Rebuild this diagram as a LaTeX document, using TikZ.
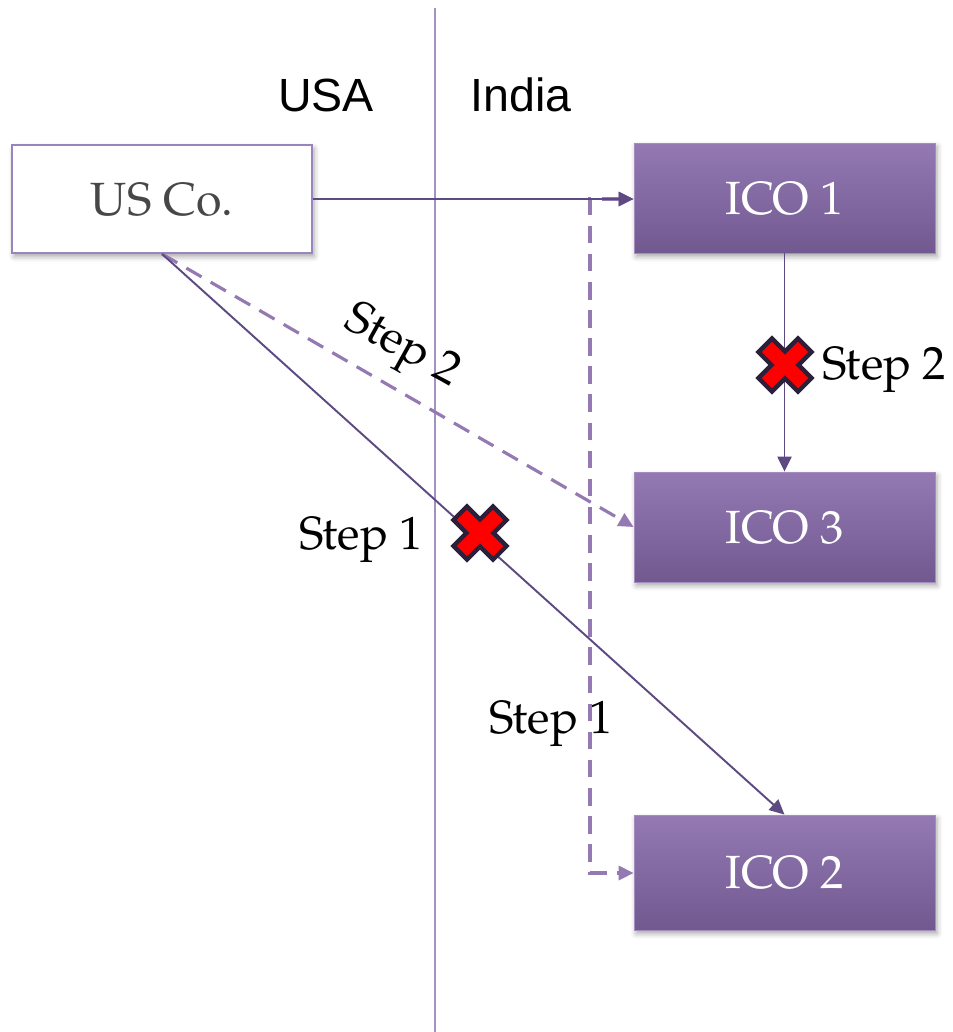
\documentclass[tikz,border=0pt]{standalone}
\usepackage{fontspec}
\setmainfont{TeX Gyre Pagella}
\newfontfamily\labelsans{Liberation Sans}
\usetikzlibrary{arrows.meta,shadows.blur}

\definecolor{icotop}{HTML}{9479B3}
\definecolor{icobot}{HTML}{715990}
\definecolor{linkdark}{HTML}{5E4A82}
\definecolor{linklight}{HTML}{9479B3}
\definecolor{boxborder}{HTML}{9A84BE}
\definecolor{divider}{HTML}{A292C2}
\definecolor{crossred}{HTML}{FF0000}
\definecolor{crossedge}{HTML}{2B1F3A}

\begin{document}
\begin{tikzpicture}[x=0.02cm,y=-0.02cm,
  font=\fontsize{26.5}{30}\selectfont,
  box/.style={minimum width=6.02cm, minimum height=2.2cm, inner sep=0pt,
    blur shadow={shadow xshift=1.2pt, shadow yshift=-2pt,
                 shadow blur radius=3pt, shadow opacity=35}},
  company/.style={box, draw=boxborder, line width=1.1pt, fill=white, text=black!72},
  ico/.style={box, top color=icotop, bottom color=icobot,
    draw=icotop!85!white, line width=0.5pt, text=white},
  link/.style={draw=linkdark, line width=1.1pt, -{Triangle[length=8.5pt,width=8pt]}},
  dashlink/.style={draw=linklight, line width=1.8pt, dash pattern=on 10pt off 6pt},
  steplabel/.style={inner sep=0pt, text=black},
  country/.style={inner sep=0pt, font=\labelsans\fontsize{26.5}{30}\selectfont},
  crossmark/.pic={
    \draw[crossedge, line width=2.5pt, fill=crossred, line join=miter, rotate=45]
      (9.5,9.5)--(9.5,28)--(-9.5,28)--(-9.5,9.5)--(-28,9.5)--(-28,-9.5)--(-9.5,-9.5)
      --(-9.5,-28)--(9.5,-28)--(9.5,-9.5)--(28,-9.5)--(28,9.5)--cycle;
  }]
  \useasboundingbox (0,0) rectangle (953,1032);

  % border between the two countries
  \coordinate (divtop) at (435,8);
  \coordinate (divbot) at (435,1032);
  \draw[divider, line width=1.3pt] (divtop) -- (divbot);

  \node[country] (usa) at (326,95) {USA};
  \node[country] (india) at (521,95) {India};

  % companies
  \node[company, minimum width=6cm, minimum height=2.16cm] (usco) at (162,199) {US Co.};
  \node[ico] (ico1) at (784.5,198) {ICO 1};
  \node[ico] (ico3) at (784.5,527) {ICO 3};
  \node[ico, minimum height=2.3cm] (ico2) at (784.5,872.5) {ICO 2};

  % dashed route through ICO 1's side down to ICO 2
  \coordinate (dtop) at (590,199);
  \coordinate (dbot) at (590,873);
  \draw[dashlink, {Triangle[length=8.5pt,width=8pt]}-{Triangle[length=8.5pt,width=8pt]}]
    (ico1.west |- dtop) -- (dtop) -- (dbot) -- (ico2.west |- dbot);
  \draw[dashlink, -{Triangle[length=8.5pt,width=8pt]}] (usco.south) -- (ico3.west);

  % solid transfers
  \draw[link] (usco.east |- dtop) -- (ico1.west |- dtop);
  \draw[link] (usco.south) -- (ico2.north);
  \draw[link] (ico1.south) -- (ico3.north);

  % blocked steps
  \pic at (785,365) {crossmark};
  \pic at (480,533) {crossmark};

  \node[steplabel, rotate=-29] (step2a) at (402,348) {Step 2};
  \node[steplabel, anchor=west] (step2b) at (822,370) {Step 2};
  \node[steplabel] (step1a) at (361,540) {Step 1};
  \node[steplabel] (step1b) at (551,724) {Step 1};
\end{tikzpicture}
\end{document}
